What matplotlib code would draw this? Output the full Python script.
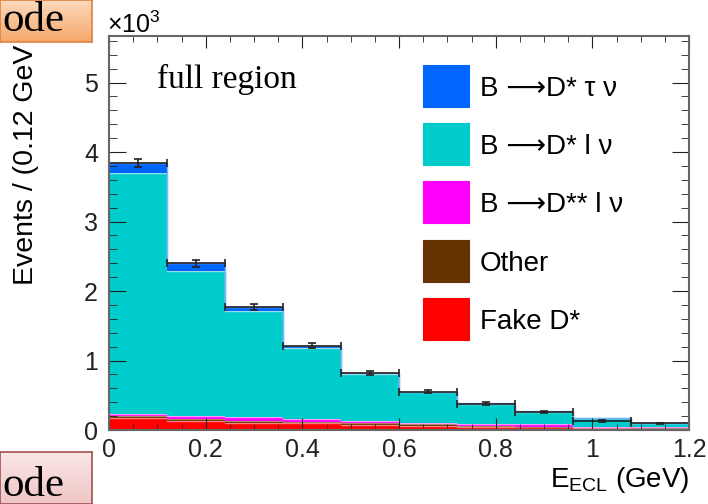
import matplotlib.pyplot as plt
import numpy as np
from matplotlib.patches import Rectangle
from matplotlib.colors import LinearSegmentedColormap

plt.rcParams['font.family'] = ['Liberation Sans', 'DejaVu Sans']
plt.rcParams['mathtext.fontset'] = 'custom'
plt.rcParams['mathtext.rm'] = 'Liberation Sans'
plt.rcParams['mathtext.it'] = 'Liberation Sans:italic'

# bins of E_ECL (GeV), width 0.12
bin_lo = [0.0, 0.12, 0.24, 0.36, 0.48, 0.60, 0.72, 0.84, 0.96, 1.08]
bin_w = 0.12

# stacked components, events x 10^3 (bottom to top)
fake_dstar = [0.17, 0.13, 0.10, 0.10, 0.07, 0.06, 0.05, 0.04, 0.03, 0.02]
other = [0.03, 0.03, 0.03, 0.02, 0.03, 0.02, 0.01, 0.01, 0.01, 0.01]
dss_lnu = [0.03, 0.04, 0.06, 0.04, 0.03, 0.02, 0.03, 0.03, 0.01, 0.01]
dst_lnu = [3.47, 2.09, 1.52, 1.02, 0.67, 0.44, 0.29, 0.18, 0.12, 0.06]
dst_taunu = [0.14, 0.11, 0.06, 0.03, 0.02, 0.01, 0.01, 0.01, 0.005, 0.005]

# data points
data = [3.84, 2.40, 1.77, 1.21, 0.82, 0.55, 0.38, 0.26, 0.13, 0.095]
data_err = [0.062, 0.049, 0.042, 0.035, 0.029, 0.023, 0.020, 0.016, 0.012, 0.010]

labels = ["B ⟶D* τ ν", "B ⟶D* l ν", "B ⟶D** l ν", "Other", "Fake D*"]
colors = ["#0066ff", "#00cccc", "#ff00ff", "#663300", "#ff0000"]

W, H = 708, 504
fig = plt.figure(figsize=(W / 100, H / 100), dpi=100)
ax = fig.add_axes([109 / W, (H - 430) / H, 580 / W, 394 / H])

stack = [fake_dstar, other, dss_lnu, dst_lnu, dst_taunu]
stack_cols = ["#ff0000", "#663300", "#ff00ff", "#00cccc", "#0066ff"]
edge_cols = ["#ff8080", "#b08060", "#ff99ff", "#99e0e6", "#80b0ff"]
edges = np.append(bin_lo, bin_lo[-1] + bin_w)
bottom = np.zeros(len(bin_lo))
for vals, c, ec in zip(stack, stack_cols, edge_cols):
    vals = np.array(vals)
    ax.bar(bin_lo, vals, width=bin_w, bottom=bottom, align='edge', color=c, linewidth=0)
    ax.stairs(bottom + vals, edges, color=ec, lw=1.0, baseline=None)
    bottom = bottom + vals

centers = np.array(bin_lo) + bin_w / 2
ax.errorbar(centers, data, yerr=data_err, xerr=bin_w / 2, fmt='none', ecolor='#222222',
            elinewidth=1.2, capsize=3, capthick=1.2)

ax.set_xlim(0, 1.2)
ax.set_ylim(0, 5.67)
ax.set_xticks([0, 0.2, 0.4, 0.6, 0.8, 1.0, 1.2])
ax.set_xticklabels(["0", "0.2", "0.4", "0.6", "0.8", "1", "1.2"])
ax.set_xticks(np.arange(0, 1.2001, 0.05), minor=True)
ax.set_yticks([0, 1, 2, 3, 4, 5])
ax.set_yticks(np.arange(0, 5.61, 0.2), minor=True)
ax.tick_params(which='both', direction='in', top=True, right=True, colors='#222222',
               labelsize=18)
ax.tick_params(axis='x', which='major', length=8.6, pad=6)
ax.tick_params(axis='x', which='minor', length=4.3)
ax.tick_params(axis='y', which='major', length=12, pad=8)
ax.tick_params(axis='y', which='minor', length=6)
for sp in ax.spines.values():
    sp.set_color('#666666')
    sp.set_linewidth(1.5)

# axis titles (ROOT style); the y title runs under the slide box at top-left
fig.text(33 / W, 1 - 285 / H, "Events / (0.12 GeV )", rotation=90, rotation_mode='anchor',
         ha='left', va='baseline', fontsize=20.5, zorder=-1)
fig.text(689 / W, 1 - 487 / H, "E$_{\\rm ECL}$ (GeV)", ha='right', va='baseline', fontsize=20)
fig.text(107 / W, 1 - 33 / H, "$\\times$10$^{3}$", ha='left', va='baseline', fontsize=18)

fig.text(157 / W, 1 - 88 / H, "full region", family='Liberation Serif', fontsize=24,
         ha='left', va='baseline')

# legend drawn by hand, ROOT style
row_top = [65, 123, 181, 240, 298]
for lab, c, yt in zip(labels, colors, row_top):
    fig.patches.append(Rectangle((423 / W, 1 - (yt + 42) / H), 46 / W, 42 / H,
                                 transform=fig.transFigure, facecolor=c,
                                 edgecolor=c, lw=0.8))
    fig.text(480 / W, 1 - (yt + 21) / H, lab, fontsize=20, ha='left', va='center_baseline')

# slide fragments around the plot
grad = np.linspace(0, 1, 50).reshape(-1, 1)
tb = fig.add_axes([0, 1 - 42 / H, 92 / W, 42 / H], zorder=1)
tb.imshow(grad, aspect='auto', cmap=LinearSegmentedColormap.from_list(
    'o', ["#fcd9bd", "#f6a86b"]), extent=[0, 1, 0, 1], origin='upper')
tb.set_xticks([])
tb.set_yticks([])
for sp in tb.spines.values():
    sp.set_color('#e08040')
    sp.set_linewidth(1.2)
fig.text(2 / W, 1 - 31 / H, "ode", family='Liberation Serif', fontsize=31,
         ha='left', va='baseline', zorder=5)

bb = fig.add_axes([0, 0, 92 / W, 52 / H], zorder=1)
bb.imshow(grad, aspect='auto', cmap=LinearSegmentedColormap.from_list(
    'p', ["#fbe6e6", "#efc6c6"]), extent=[0, 1, 0, 1], origin='upper')
bb.set_xticks([])
bb.set_yticks([])
for sp in bb.spines.values():
    sp.set_color('#a05050')
    sp.set_linewidth(1.2)
fig.text(2 / W, 1 - 496 / H, "ode", family='Liberation Serif', fontsize=31,
         ha='left', va='baseline', zorder=5)

fig.savefig("out.png", dpi=100)
